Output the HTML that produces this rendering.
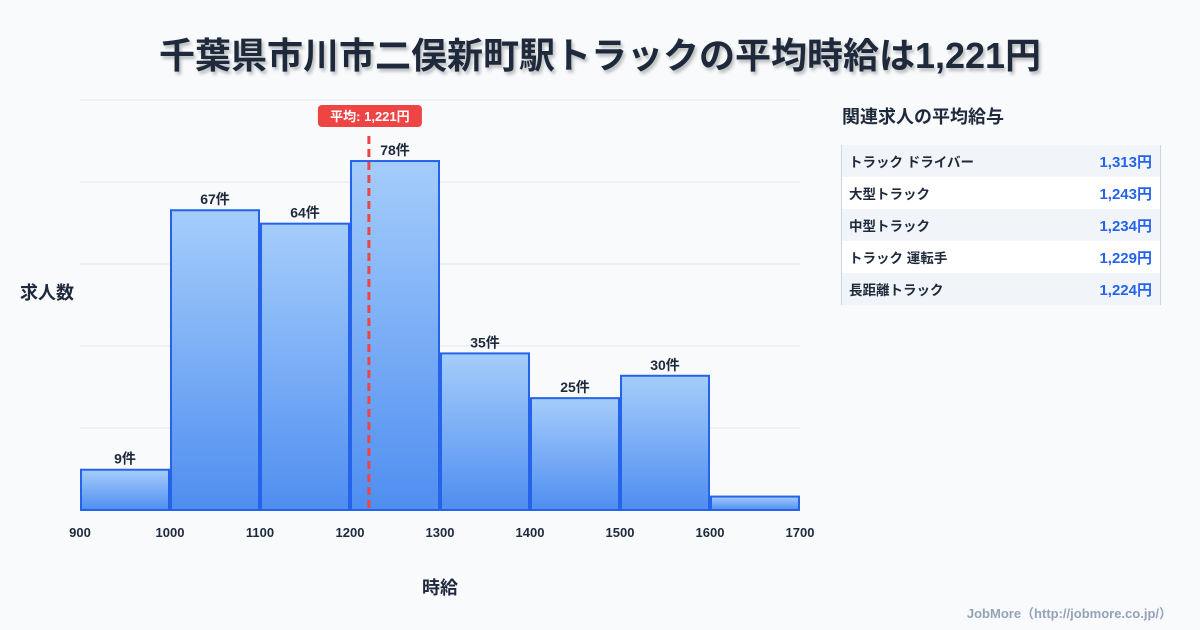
<!DOCTYPE html>
<html><head><meta charset="utf-8">
<style>
body{margin:0;width:1200px;height:630px;background:#f8fafc;font-family:"Liberation Sans","Noto Sans CJK JP",sans-serif;overflow:hidden;position:relative}
.title{position:absolute;left:0;width:1200px;top:27px;text-align:center;font-size:36px;font-weight:bold;color:#1e293b;text-shadow:2px 3px 3px rgba(0,0,0,0.25)}
.side-title{position:absolute;left:842px;top:103px;font-size:18px;font-weight:bold;color:#1e293b}
.tbl{position:absolute;left:841px;top:145px;width:318px;height:160px;border-left:1px solid #cbd5e1;border-right:1px solid #cbd5e1}
.row{height:32px;display:flex;justify-content:space-between;align-items:center;padding:0 8px 0 7px;font-size:13.5px;font-weight:bold;color:#1e293b}
.row:nth-child(odd){background:#f1f5f9}
.row:nth-child(even){background:#fff}
.row span:last-child{color:#2563eb;font-size:15px}
.foot{position:absolute;right:28px;top:603px;font-size:13px;font-weight:bold;color:#94a3b8}
</style></head><body>
<div class="title">千葉県市川市二俣新町駅トラックの平均時給は1,221円</div>
<svg id="chart" width="830" height="630" style="position:absolute;left:0;top:0">
<defs><linearGradient id="g" x1="0" y1="0" x2="0" y2="1"><stop offset="0" stop-color="#a5cdfb"/><stop offset="1" stop-color="#4f8ef0"/></linearGradient></defs>
</svg>
<div class="side-title">関連求人の平均給与</div>
<div class="tbl">
<div class="row"><span>トラック ドライバー</span><span>1,313円</span></div>
<div class="row"><span>大型トラック</span><span>1,243円</span></div>
<div class="row"><span>中型トラック</span><span>1,234円</span></div>
<div class="row"><span>トラック 運転手</span><span>1,229円</span></div>
<div class="row"><span>長距離トラック</span><span>1,224円</span></div>
</div>
<div class="foot">JobMore（http://jobmore.co.jp/）</div>
<script>
const binStarts=[900,1000,1100,1200,1300,1400,1500,1600];
const counts=[9,67,64,78,35,25,30,3];
const xTicks=[900,1000,1100,1200,1300,1400,1500,1600,1700];
const meanValue=1221;
const svg=document.getElementById('chart');
const NS='http://www.w3.org/2000/svg';
const x=v=>80+(v-900)*0.9;
const y=v=>510-v*4.474;
function mk(t,a){const e=document.createElementNS(NS,t);for(const k in a)e.setAttribute(k,a[k]);svg.appendChild(e);return e;}
for(let i=0;i<6;i++){const g=mk('line',{x1:80,x2:800,y1:100+i*82,y2:100+i*82,stroke:'#e2e8f0','stroke-width':1});

}
binStarts.forEach((b,i)=>{
const r=mk('rect',{x:x(b)+1,y:y(counts[i]),width:x(b+100)-x(b)-2,height:510-y(counts[i]),fill:'url(#g)',stroke:'#2563eb','stroke-width':2});


if(counts[i]>=5){const t=mk('text',{x:(x(b)+x(b+100))/2,y:y(counts[i])-6,'text-anchor':'middle','font-size':14,'font-weight':'bold',fill:'#1e293b'});t.textContent=counts[i]+'件';

}
});
xTicks.forEach(v=>{const t=mk('text',{x:x(v),y:537,'text-anchor':'middle','font-size':13,'font-weight':'bold',fill:'#1e293b'});t.textContent=v;

});
const ml=mk('line',{x1:x(meanValue),x2:x(meanValue),y1:136,y2:510,stroke:'#ef4444','stroke-width':3,'stroke-dasharray':'8,5'});


const mb=mk('rect',{x:x(meanValue)-51,y:105,width:104,height:22,rx:4,fill:'#ef4444'});


const mt=mk('text',{x:x(meanValue)+1,y:121,'text-anchor':'middle','font-size':13,'font-weight':'bold',fill:'#fff'});mt.textContent='平均: 1,221円';


const yt=mk('text',{x:20,y:299,'font-size':18,'font-weight':'bold',fill:'#1e293b'});yt.textContent='求人数';


const xt=mk('text',{x:440,y:594,'text-anchor':'middle','font-size':18,'font-weight':'bold',fill:'#1e293b'});xt.textContent='時給';


</script>
</body></html>
